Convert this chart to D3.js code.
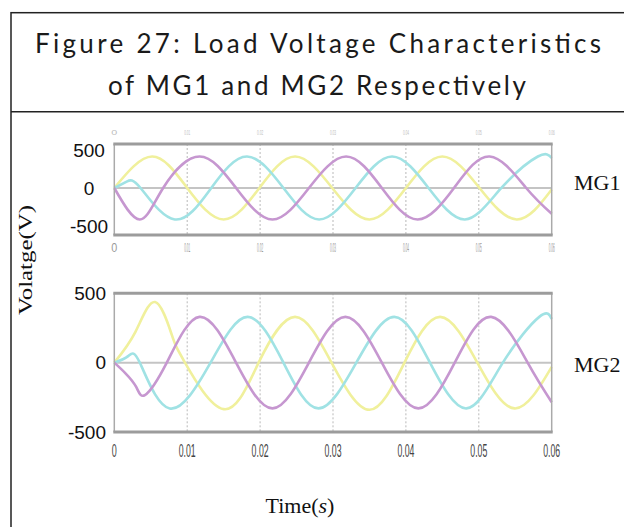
<!DOCTYPE html>
<html><head><meta charset="utf-8">
<script src="https://cdn.jsdelivr.net/npm/d3@7"></script>
<style>html,body{margin:0;padding:0;background:#fff;} svg{display:block}</style>
</head><body><svg id="c" width="624" height="527"></svg>
<script>
// ---------- data ----------
const titleLines = ["Figure 27: Load Voltage Characteristics", "of MG1 and MG2 Respectively"];
const yAxisTitle = "Volatge(V)";
const xAxisTitle = "Time";
const panelNames = ["MG1", "MG2"];
const timeTicks = [0, 0.01, 0.02, 0.03, 0.04, 0.05, 0.06];
const timeTickLabels = ["0", "0.01", "0.02", "0.03", "0.04", "0.05", "0.06"];
const voltTicks = [500, 0, -500];
const voltTickLabels = ["500", "0", "-500"];

// MG1 phase voltages [time s, volts]
const mg1Yellow = [[0,0],[0.0052,415],[0.0100,0],[0.0150,-415],[0.0199,0],[0.0248,415],[0.0299,0],[0.0350,-415],[0.0400,0],[0.0450,415],[0.0501,0],[0.0552,-415],[0.0600,-20]];
const mg1Cyan   = [[0,0],[0.0017,85],[0.0036,0],[0.0083,-415],[0.0133,0],[0.0182,415],[0.0232,0],[0.0281,-415],[0.0331,0],[0.0381,415],[0.0431,0],[0.0481,-415],[0.0531,0],[0.0581,415],[0.0600,395]];
const mg1Purple = [[0,0],[0.0035,-415],[0.0067,0],[0.0117,415],[0.0167,0],[0.0217,-415],[0.0267,0],[0.0318,415],[0.0367,0],[0.0416,-415],[0.0466,0],[0.0515,415],[0.0565,0],[0.0600,-340]];
// MG2 phase voltages [time s, volts]
const mg2Yellow = [[0,0],[0.0029,222],[0.0056,437],[0.0079,198],[0.0097,0],[0.0150,-335],[0.0198,0],[0.0248,330],[0.0298,0],[0.0350,-340],[0.0398,0],[0.0447,330],[0.0498,0],[0.0549,-330],[0.0600,-30]];
const mg2Cyan   = [[0,0],[0.0019,47],[0.0035,0],[0.0076,-330],[0.0132,0],[0.0183,330],[0.0232,0],[0.0280,-330],[0.0332,0],[0.0384,330],[0.0433,0],[0.0483,-330],[0.0533,0],[0.0583,330],[0.0600,315]];
const mg2Purple = [[0,0],[0.0015,-75],[0.0030,-175],[0.0042,-234],[0.0072,0],[0.0117,330],[0.0167,0],[0.0217,-330],[0.0267,0],[0.0317,330],[0.0367,0],[0.0417,-330],[0.0467,0],[0.0517,330],[0.0567,0],[0.0600,-285]];

const phaseColors = {yellow: "#f0f09c", cyan: "#a0e2e4", purple: "#c697d0"};

// ---------- drawing ----------
const svg = d3.select("#c");
svg.append("rect").attr("width", 624).attr("height", 527).attr("fill", "#fff");

// outer box + divider
svg.append("rect").attr("x", 11).attr("y", 12.7).attr("width", 630).attr("height", 600)
  .attr("fill", "none").attr("stroke", "#222").attr("stroke-width", 1.5);
svg.append("line").attr("x1", 11).attr("x2", 630).attr("y1", 111.7).attr("y2", 111.7)
  .attr("stroke", "#222").attr("stroke-width", 1.5);

const titleSpec = [{x: 318, y: 53, w: 566}, {x: 317, y: 95, w: 418}];
svg.selectAll("text.title").data(titleLines).join("text").attr("class", "title")
  .attr("x", (d, i) => titleSpec[i].x).attr("y", (d, i) => titleSpec[i].y)
  .attr("text-anchor", "middle").attr("font-family", "Lato, 'Open Sans', sans-serif")
  .attr("font-size", 26).attr("fill", "#1a1a1a")
  .attr("textLength", (d, i) => titleSpec[i].w).attr("lengthAdjust", "spacing")
  .text(d => d);

const x = d3.scaleLinear().domain([0, 0.06]).range([114.3, 551.7]);
const panels = [
  {name: panelNames[0], y: d3.scaleLinear().domain([-620, 580]).range([235, 144]),
   series: [[mg1Yellow, "yellow"], [mg1Cyan, "cyan"], [mg1Purple, "purple"]],
   labelX: 89, labelAnchor: "middle", nameY: 190, small: true},
  {name: panelNames[1], y: d3.scaleLinear().domain([-500, 500]).range([432, 293.3]),
   series: [[mg2Yellow, "yellow"], [mg2Cyan, "cyan"], [mg2Purple, "purple"]],
   labelX: 106, labelAnchor: "end", nameY: 372, small: false}
];

panels.forEach(p => {
  const g = svg.append("g");
  const [y0, y1] = p.y.range();
  const [x0, x1] = x.range();
  g.append("rect").attr("x", x0).attr("y", y1).attr("width", x1 - x0).attr("height", y0 - y1).attr("fill", "#fff");
  // vertical grid
  g.selectAll("line.grid").data(timeTicks.slice(1, -1)).join("line").attr("class", "grid")
    .attr("x1", d => x(d)).attr("x2", d => x(d)).attr("y1", y1).attr("y2", y0)
    .attr("stroke", "#b9b9b9").attr("stroke-width", 1).attr("stroke-dasharray", "2,2");
  // zero line
  g.append("line").attr("x1", x0).attr("x2", x1).attr("y1", p.y(0)).attr("y2", p.y(0))
    .attr("stroke", "#c4c4c4").attr("stroke-width", 2);
  // curves
  const line = d3.line().x(d => x(d[0])).y(d => p.y(d[1])).curve(d3.curveNatural);
  g.selectAll("path.wave").data(p.series).join("path").attr("class", "wave")
    .attr("d", d => line(d[0])).attr("fill", "none")
    .attr("stroke", d => phaseColors[d[1]]).attr("stroke-width", 2.6)
    .attr("stroke-linejoin", "round");
  // frame
  g.append("line").attr("x1", x0).attr("x2", x0).attr("y1", y1).attr("y2", y0).attr("stroke", "#aaa").attr("stroke-width", 1.5);
  g.append("line").attr("x1", x1).attr("x2", x1).attr("y1", y1).attr("y2", y0).attr("stroke", "#aaa").attr("stroke-width", 1.5);
  g.append("line").attr("x1", x0 - 1).attr("x2", x1 + 1).attr("y1", y1).attr("y2", y1).attr("stroke", "#9c9c9c").attr("stroke-width", 3);
  g.append("line").attr("x1", x0 - 1).attr("x2", x1 + 1).attr("y1", y0).attr("y2", y0).attr("stroke", "#9c9c9c").attr("stroke-width", 3);
  // y tick labels
  g.selectAll("text.yt").data(voltTicks).join("text").attr("class", "yt")
    .attr("x", p.labelX).attr("y", d => p.y(d)).attr("dy", "0.36em")
    .attr("text-anchor", p.labelAnchor).attr("font-family", "'Liberation Sans', Arial, sans-serif")
    .attr("font-size", 19).attr("fill", "#111")
    .text((d, i) => voltTickLabels[i]);
  // panel name
  g.append("text").attr("x", 574).attr("y", p.nameY)
    .attr("font-family", "'Liberation Serif', 'Times New Roman', serif").attr("font-size", 22).attr("fill", "#111")
    .text(p.name);
  if (p.small) {
    // tiny blurred time labels above and below
    g.selectAll("text.tt").data(timeTicks).join("text").attr("class", "tt")
      .attr("x", d => x(d)).attr("y", y1 - 9).attr("text-anchor", "middle")
      .attr("font-family", "'Liberation Sans', sans-serif").attr("font-size", 7).attr("fill", "#bbb")
      .attr("textLength", 6).attr("lengthAdjust", "spacingAndGlyphs")
      .text((d, i) => timeTickLabels[i]);
    g.selectAll("text.tb").data(timeTicks).join("text").attr("class", "tb")
      .attr("x", d => x(d)).attr("y", y0 + 17).attr("text-anchor", "middle")
      .attr("font-family", "'Liberation Sans', sans-serif").attr("font-size", 12).attr("fill", "#9a9a9a")
      .attr("textLength", 6).attr("lengthAdjust", "spacingAndGlyphs")
      .text((d, i) => timeTickLabels[i]);
  } else {
    g.selectAll("text.tb").data(timeTicks).join("text").attr("class", "tb")
      .attr("x", d => x(d)).attr("y", y0 + 25).attr("text-anchor", "middle")
      .attr("font-family", "'Liberation Sans', sans-serif").attr("font-size", 18).attr("fill", "#444")
      .attr("textLength", (d, i) => timeTickLabels[i].length > 1 ? 17 : 5).attr("lengthAdjust", "spacingAndGlyphs")
      .text((d, i) => timeTickLabels[i]);
  }
});

// axis titles
svg.append("text").attr("transform", "translate(32,260) rotate(-90)")
  .attr("text-anchor", "middle").attr("font-family", "'Liberation Serif', serif")
  .attr("font-size", 19).attr("fill", "#111")
  .attr("textLength", 110).attr("lengthAdjust", "spacingAndGlyphs")
  .text(yAxisTitle);
const xt = svg.append("text").attr("x", 300).attr("y", 513).attr("text-anchor", "middle")
  .attr("font-family", "'Liberation Serif', serif").attr("font-size", 22).attr("fill", "#111");
xt.append("tspan").text(xAxisTitle + "(");
xt.append("tspan").attr("font-style", "italic").text("s");
xt.append("tspan").text(")");
</script>
</body></html>
